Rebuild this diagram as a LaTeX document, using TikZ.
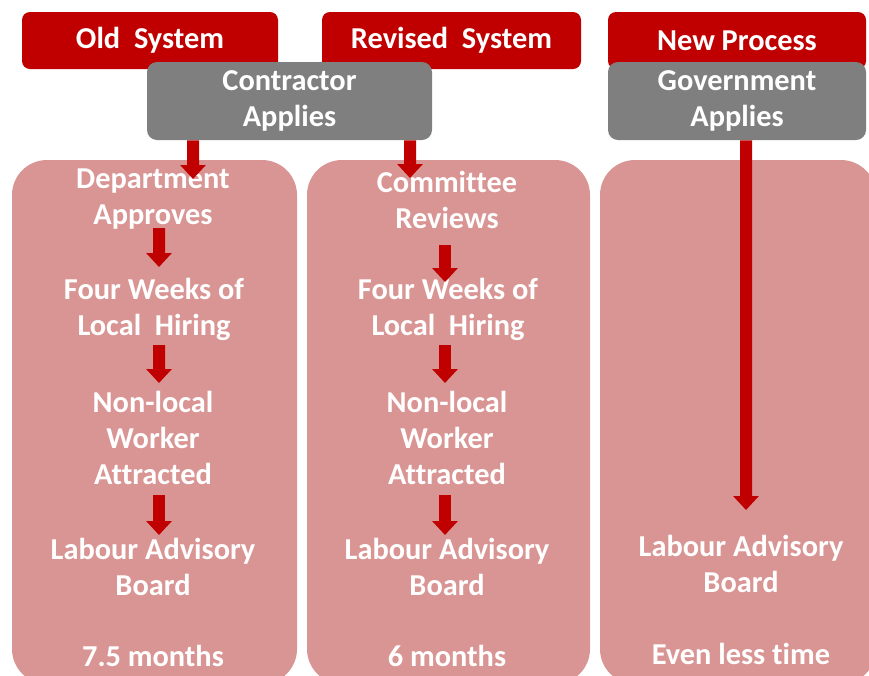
\documentclass[tikz,border=0pt]{standalone}
\usepackage{fontspec}
\setmainfont{Carlito}[Ligatures=CommonOff]
\usetikzlibrary{arrows.meta}
\definecolor{dunkelrot}{RGB}{192,0,0}
\definecolor{grau}{RGB}{127,127,127}
\definecolor{rosa}{RGB}{217,149,148}

\begin{document}
\begin{tikzpicture}[
schrift/.style={text=white, align=center, inner sep=0pt, font=\bfseries\fontsize{21.6}{25.6}\selectfont},
kopf/.style={schrift, rectangle, rounded corners=0.2cm, fill=dunkelrot, minimum height=1.425cm},
antrag/.style={kopf, fill=grau, minimum height=1.95cm, rounded corners=0.25cm},
feld/.style={fill=rosa, rounded corners=0.875cm},
pfeil/.style={-{Triangle[width=0.625cm,length=0.35cm]}, line width=0.3cm, dunkelrot},
]

\clip (0,0) rectangle (21.725,-16.875);

%Hintergrundfelder
\fill[feld] (0.3,-4) rectangle (7.425,-17.1);
\fill[feld] (7.675,-4) rectangle (14.75,-17.1);
\fill[feld] (15,-4) rectangle (21.9,-17.1);

%Kopfzeilen
\node[kopf, minimum width=6.4cm] (alt) at (3.75,-1.0125) {Old~ System};
\node[kopf, minimum width=6.475cm] (neu) at (11.2875,-1.0125) {Revised~ System};
\node[kopf, minimum width=6.45cm] (prozess) at (18.425,-1.0125) {New Process};

\node[antrag, minimum width=7.125cm] (vertrag) at (7.2375,-2.525) {Contractor\\Applies};
\node[antrag, minimum width=6.45cm] (regierung) at (18.425,-2.525) {Government\\Applies};

%altes System
\node[schrift] (dep) at (3.825,-4.9875) {Department\\Approves};
\node[schrift] (vierA) at (3.85,-7.7375) {Four Weeks of\\Local~ Hiring};
\node[schrift] (fremdA) at (3.825,-10.95) {Non-local\\Worker\\Attracted};
\node[schrift] (beiratA) at (3.825,-14.175) {Labour Advisory\\Board};
\node[schrift] (zeitA) at (3.825,-16.4) {7.5 months};

%ueberarbeitetes System
\node[schrift] (komitee) at (11.175,-4.9875) {Committee\\Reviews};
\node[schrift] (vierB) at (11.2,-7.7375) {Four Weeks of\\Local~ Hiring};
\node[schrift] (fremdB) at (11.175,-10.95) {Non-local\\Worker\\Attracted};
\node[schrift] (beiratB) at (11.175,-14.175) {Labour Advisory\\Board};
\node[schrift] (zeitB) at (11.175,-16.4) {6 months};

%neuer Prozess
\node[schrift] (beiratC) at (18.525,-14.1) {Labour Advisory\\Board};
\node[schrift] (zeitC) at (18.525,-16.35) {Even less time};

%Pfeile
\draw[pfeil] ([xshift=-2.4125cm]vertrag.south) -- ([xshift=1cm,yshift=0.5125cm]dep.center);
\draw[pfeil] ([xshift=3.0125cm]vertrag.south) -- ([xshift=-0.925cm,yshift=0.5375cm]komitee.center);
\draw[pfeil] ([xshift=0.225cm]regierung.south) -- ([xshift=0.125cm,yshift=1.35cm]beiratC.center);

\draw[pfeil] ([xshift=0.15cm,yshift=-0.7125cm]dep.center) -- ([xshift=0.125cm,yshift=1.0625cm]vierA.center);
\draw[pfeil] ([xshift=0.125cm,yshift=-0.8875cm]vierA.center) -- ([xshift=0.15cm,yshift=1.375cm]fremdA.center);
\draw[pfeil] ([xshift=0.15cm,yshift=-1.425cm]fremdA.center) -- ([xshift=0.15cm,yshift=0.8cm]beiratA.center);

\draw[pfeil] ([xshift=-0.05cm,yshift=-1.1375cm]komitee.center) -- ([xshift=-0.075cm,yshift=0.6875cm]vierB.center);
\draw[pfeil] ([xshift=-0.075cm,yshift=-0.8875cm]vierB.center) -- ([xshift=-0.05cm,yshift=1.375cm]fremdB.center);
\draw[pfeil] ([xshift=-0.05cm,yshift=-1.425cm]fremdB.center) -- ([xshift=-0.05cm,yshift=0.8cm]beiratB.center);

\end{tikzpicture}
\end{document}
